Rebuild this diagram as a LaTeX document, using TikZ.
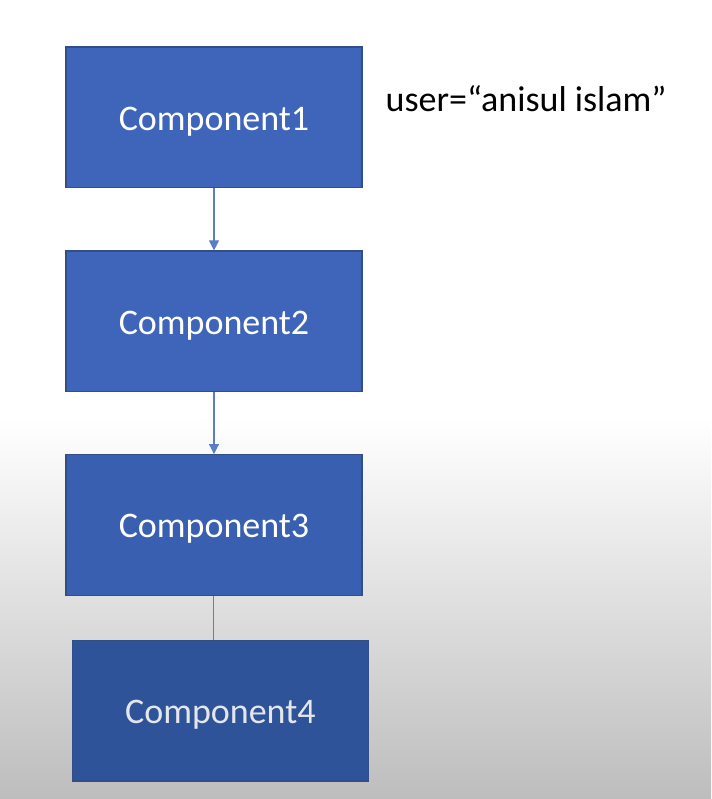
\documentclass[tikz,border=0pt]{standalone}
\usepackage{fontspec}
\setmainfont{Carlito}
\usetikzlibrary{positioning,calc,arrows.meta}
\definecolor{compblue}{RGB}{62,101,186}
\definecolor{compblueb}{RGB}{56,95,176}
\definecolor{compbluec}{RGB}{47,83,152}
\definecolor{compedge}{RGB}{50,78,135}
\definecolor{linkblue}{RGB}{88,126,200}
\tikzset{font=\fontsize{25.6}{30}\selectfont}

\begin{document}
\begin{tikzpicture}
	\begin{scope}
		\tikzstyle{every node}=[align=center, inner sep=1pt]
		\tikzstyle{compbox}=[draw=compedge, line width=0.8pt, minimum width=7.4cm, minimum height=3.52cm, text=white, text height=0.83cm, text depth=0.18cm]
		% background
		\fill[white] (0, 0) rectangle (17.775, 19.975);
		\shade[top color=white, bottom color={rgb,255:red,189;green,189;blue,189}] (0, 0) rectangle (17.775, 9.5);
		\useasboundingbox (0, 0) rectangle (17.775, 19.975);

		\node[compbox, fill=compblue] (c1) at (5.35, 17.04) {Component1};
		\node[compbox, fill=compblue] (c2) at (5.35, 11.94) {Component2};
		\node[compbox, fill=compblueb] (c3) at (5.35, 6.85) {Component3};
		\node[compbox, fill=compbluec, text={rgb,255:red,228;green,230;blue,236}] (c4) at (5.51, 2.21) {Component4};
		\node[anchor=base west] (user) at (9.6, 17.18) {user=“anisul islam”};

		\draw[linkblue, line width=0.8pt, -{Triangle[width=0.25cm, length=0.25cm]}] (c1) -- (c2);
		\draw[linkblue, line width=0.8pt, -{Triangle[width=0.25cm, length=0.25cm]}] (c2) -- (c3);
		\draw[linkblue!80!gray, line width=0.9pt] (c3.south -| 5.33, 0) -- (c4.north -| 5.33, 0);

	\end{scope}
\end{tikzpicture}
\end{document}
